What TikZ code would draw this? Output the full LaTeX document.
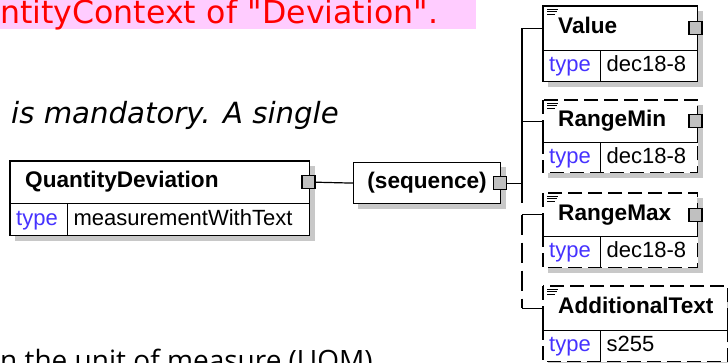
\documentclass[tikz,border=0pt]{standalone}
\usepackage{fontspec}
\setmainfont{Liberation Sans}
\newfontfamily\verdana{DejaVu Sans}
\newfontfamily\segoe{Open Sans}
\usetikzlibrary{positioning,backgrounds}

\definecolor{SpyPink}{RGB}{255,204,255}
\definecolor{SpyRed}{RGB}{255,0,0}
\definecolor{SpyShadow}{RGB}{200,200,200}
\definecolor{SpyPlug}{RGB}{192,192,192}
\definecolor{SpyBlue}{RGB}{70,50,255}

\tikzset{
  namecell/.style={anchor=north west, inner xsep=15pt, inner ysep=0pt, align=left, fill=white,
    font=\fontsize{22.6}{24}\selectfont\bfseries, text height=16pt, text depth=5pt},
  typecell/.style={anchor=north west, inner xsep=6pt, inner ysep=0pt, align=left, fill=white,
    text width=45pt, text=SpyBlue, font=\fontsize{22}{24}\selectfont, text height=16pt, text depth=5pt},
  valcell/.style={anchor=north west, inner xsep=6pt, inner ysep=0pt, align=left, fill=white,
    font=\fontsize{22}{24}\selectfont, text height=16pt, text depth=5pt},
  plug/.style={draw, line width=1.2pt, fill=SpyPlug, minimum size=13pt, inner sep=0pt},
  wire/.style={line width=1.2pt},
  optwire/.style={line width=1.2pt, dash pattern=on 20pt off 8pt},
  optbox/.style={line width=1.2pt, dash pattern=on 14pt off 6pt},
}

\begin{document}
\begin{tikzpicture}[x=1pt, y=-1pt]
  \useasboundingbox (0,0) rectangle (728,362);

  % text around the diagram
  \node[anchor=north west, fill=SpyPink, text width=476pt, minimum height=29pt, inner sep=0pt, align=left,
        text=SpyRed, font=\verdana\fontsize{31.6}{34}\selectfont, text height=20pt, text depth=3pt] (banner) at (0,0)
        {ntityContext of "Deviation".};
  \node[anchor=base west, inner sep=0pt, font=\verdana\itshape\fontsize{29.2}{34}\selectfont] (note) at (11,123)
        {is mandatory. A single};
  \node[anchor=base west, inner sep=0pt, font=\segoe\fontsize{28}{32}\selectfont] (uom) at (0,370)
        {n the unit of measure (UOM)};

  % QuantityDeviation
  \node[namecell, text width=269pt, minimum height=42pt] (qd) at (10,161) {QuantityDeviation};
  \node[typecell, minimum height=32pt] (qdT) at (qd.south west) {type};
  \node[valcell, text width=230pt, minimum height=32pt] (qdV) at (qdT.north east) {measurementWithText};

  % sequence
  \node[draw, wire, fill=white, anchor=north west, minimum width=147pt, minimum height=41pt, inner sep=0pt,
        font=\fontsize{22.6}{24}\selectfont\bfseries] (seq) at (353,162) {(sequence)};

  % children
  \node[namecell, text width=124pt, minimum height=44pt] (value) at (543,6) {Value};
  \node[typecell, minimum height=31pt] (valueT) at (value.south west) {type};
  \node[valcell, text width=85pt, minimum height=31pt] (valueV) at (valueT.north east) {dec18-8};

  \node[namecell, text width=124pt, minimum height=42pt] (rmin) at (543,100) {RangeMin};
  \node[typecell, minimum height=30pt] (rminT) at (rmin.south west) {type};
  \node[valcell, text width=85pt, minimum height=30pt] (rminV) at (rminT.north east) {dec18-8};

  \node[namecell, text width=124pt, minimum height=43pt] (rmax) at (543,193) {RangeMax};
  \node[typecell, minimum height=31pt] (rmaxT) at (rmax.south west) {type};
  \node[valcell, text width=85pt, minimum height=31pt] (rmaxV) at (rmaxT.north east) {dec18-8};

  \node[namecell, text width=154pt, minimum height=44pt] (at) at (543,286) {AdditionalText};
  \node[typecell, minimum height=31pt] (atT) at (at.south west) {type};
  \node[valcell, text width=115pt, minimum height=31pt] (atV) at (atT.north east) {s255};

  % shadows
  \begin{pgfonlayer}{background}
    \foreach \e/\f in {qd/qdV, seq/seq, value/valueV, rmin/rminV, rmax/rmaxV, at/atV}
      \fill[SpyShadow] ([shift={(5pt,-5pt)}]\e.north west) rectangle ([shift={(5pt,-5pt)}]\f.south east);
  \end{pgfonlayer}

  % outlines
  \foreach \e/\t/\f in {qd/qdT/qdV, value/valueT/valueV} {
    \draw[wire] (\e.north west) rectangle (\f.south east);
    \draw[wire] (\e.south west) -- (\e.south east) (\t.north east) -- (\t.south east);
  }
  \foreach \e/\t/\f in {rmin/rminT/rminV, rmax/rmaxT/rmaxV, at/atT/atV} {
    \draw[optbox] (\e.north west) rectangle (\f.south east);
    \draw[wire] (\e.west) |- (\e.south east) -- (\e.east) (\t.north east) -- (\t.south east);
  }

  % element icons
  \foreach \e in {value,rmin,rmax,at}
    \draw[line width=0.8pt] ([shift={(4pt,-3pt)}]\e.north west) -- +(11pt,0pt)
      ([shift={(4pt,-5.5pt)}]\e.north west) -- +(10pt,0pt)
      ([shift={(4pt,-8pt)}]\e.north west) -- +(8pt,0pt);

  % plugs
  \node[plug] (qdP) at ([xshift=-1pt]qd.east) {};
  \node[plug] (seqP) at ([xshift=-1pt]seq.east) {};
  \node[plug] (valueP) at ([xshift=-2pt]value.east) {};
  \node[plug] (rminP) at ([xshift=-2pt]rmin.east) {};
  \node[plug] (rmaxP) at ([xshift=-2pt]rmax.east) {};

  % connectors
  \coordinate (bus) at (522,203);
  \draw[wire] (qdP.east) -- (seq.west);
  \draw[wire] (seqP.east) -- (seqP.east -| bus);
  \draw[wire] (value.west) -- (value.west -| bus) -- (bus);
  \draw[wire] (rmin.west) -- (rmin.west -| bus);
  \draw[wire] (rmax.west) -- (rmax.west -| bus);
  \draw[optwire] (rmax.west -| bus) -- (at.west -| bus);
  \draw[wire] (at.west -| bus) -- (at.west);
\end{tikzpicture}
\end{document}
